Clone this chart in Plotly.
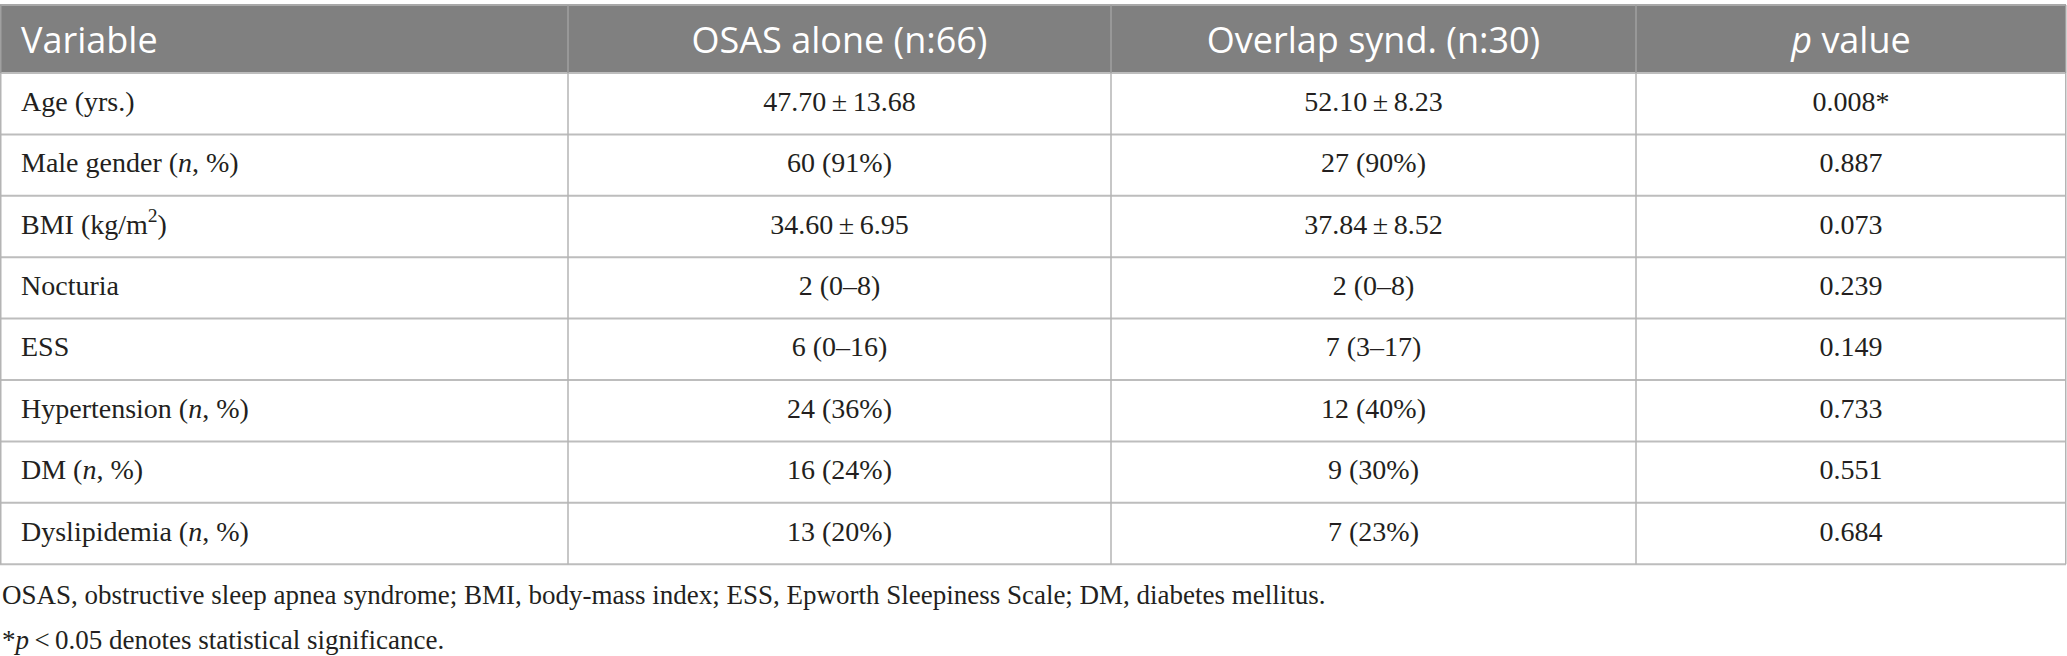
import plotly.graph_objects as go

W, H = 2067, 656

header_labels = ["Variable", "OSAS alone (n:66)", "Overlap synd. (n:30)", "<i>p</i> value"]
variables = [
    "Age (yrs.)",
    "Male gender (<i>n</i>, %)",
    "BMI (kg/m<sup>2</sup>)",
    "Nocturia",
    "ESS",
    "Hypertension (<i>n</i>, %)",
    "DM (<i>n</i>, %)",
    "Dyslipidemia (<i>n</i>, %)",
]
osas_alone = [
    "47.70\u2009±\u200913.68",
    "60 (91%)",
    "34.60\u2009±\u20096.95",
    "2 (0–8)",
    "6 (0–16)",
    "24 (36%)",
    "16 (24%)",
    "13 (20%)",
]
overlap = [
    "52.10\u2009±\u20098.23",
    "27 (90%)",
    "37.84\u2009±\u20098.52",
    "2 (0–8)",
    "7 (3–17)",
    "12 (40%)",
    "9 (30%)",
    "7 (23%)",
]
p_values = ["0.008*", "0.887", "0.073", "0.239", "0.149", "0.733", "0.551", "0.684"]

footnotes = [
    "OSAS, obstructive sleep apnea syndrome; BMI, body-mass index; ESS, Epworth Sleepiness Scale; DM, diabetes mellitus.",
    "*<i>p</i>\u2009&lt;\u20090.05 denotes statistical significance.",
]

# ---- layout constants (pixels) ----
col_widths = [568, 543, 525, 430]
table_top = 5
header_h = 68
row_h = 61.4
left_pad = 21
foot_gap = 31
foot_step = 45
body_font = dict(family="Liberation Serif", size=28, color="#231f20")
head_font = dict(family="Open Sans", size=36, color="white")
foot_font = dict(family="Liberation Serif", size=27, color="#231f20")

col_edges = [0]
for w in col_widths:
    col_edges.append(col_edges[-1] + w)
col_centers = [(col_edges[i] + col_edges[i + 1]) / 2 for i in range(len(col_widths))]
header_bottom = table_top + header_h
n_rows = len(variables)
row_edges = [header_bottom + i * row_h for i in range(n_rows + 1)]
row_mids = [(row_edges[i] + row_edges[i + 1]) / 2 for i in range(n_rows)]
table_bottom = row_edges[-1]

fig = go.Figure()

# body columns
columns = [variables, osas_alone, overlap, p_values]
for ci, col in enumerate(columns):
    if ci == 0:
        xs = [col_edges[0] + left_pad] * len(col)
        pos = "middle right"
    else:
        xs = [col_centers[ci]] * len(col)
        pos = "middle center"
    fig.add_trace(go.Scatter(
        x=xs, y=row_mids, text=col, mode="text", textposition=pos,
        textfont=body_font, hoverinfo="skip", showlegend=False, cliponaxis=False,
    ))

# header
header_y = table_top + header_h / 2 + 5
fig.add_trace(go.Scatter(
    x=[col_edges[0] + left_pad], y=[header_y], text=[header_labels[0]],
    mode="text", textposition="middle right", textfont=head_font,
    hoverinfo="skip", showlegend=False, cliponaxis=False,
))
fig.add_trace(go.Scatter(
    x=col_centers[1:], y=[header_y] * 3, text=header_labels[1:],
    mode="text", textposition="middle center", textfont=head_font,
    hoverinfo="skip", showlegend=False, cliponaxis=False,
))

shapes = []
# header fill
shapes.append(dict(type="rect", xref="x", yref="y", x0=col_edges[0], x1=col_edges[-1],
                   y0=table_top, y1=header_bottom, fillcolor="#808080",
                   line=dict(width=0), layer="below"))
# header top border
shapes.append(dict(type="line", xref="x", yref="y", x0=col_edges[0], x1=col_edges[-1],
                   y0=table_top, y1=table_top, line=dict(color="#a8a8a8", width=2), layer="below"))
# horizontal row lines
for y in row_edges:
    shapes.append(dict(type="line", xref="x", yref="y", x0=col_edges[0], x1=col_edges[-1],
                       y0=y, y1=y, line=dict(color="#bdbdbd", width=2), layer="below"))
# vertical lines
for i, x in enumerate(col_edges):
    xx = min(max(x, 0.75), col_edges[-1] - 0.25) if i in (0, len(col_edges) - 1) else x
    shapes.append(dict(type="line", xref="x", yref="y", x0=xx, x1=xx,
                       y0=header_bottom, y1=table_bottom, line=dict(color="#b4b4b4", width=1.5),
                       layer="below"))
    shapes.append(dict(type="line", xref="x", yref="y", x0=xx, x1=xx,
                       y0=table_top, y1=header_bottom, line=dict(color="#a0a0a0", width=1.5),
                       layer="below"))

for i, t in enumerate(footnotes):
    fig.add_annotation(
        x=0, y=table_bottom + foot_gap + foot_step * i, xref="paper", yref="y",
        xanchor="left", yanchor="middle", showarrow=False, text=t,
        font=foot_font,
    )

fig.update_layout(
    width=W, height=H,
    margin=dict(l=0, r=0, t=0, b=0),
    paper_bgcolor="white", plot_bgcolor="white",
    shapes=shapes,
    xaxis=dict(range=[0, W], visible=False, fixedrange=True),
    yaxis=dict(range=[H, 0], visible=False, fixedrange=True),
)
fig.write_html(
    "out.html",
    config={"displayModeBar": False, "staticPlot": True},
    post_script="document.body.style.margin='0';document.body.style.overflow='hidden';",
)
